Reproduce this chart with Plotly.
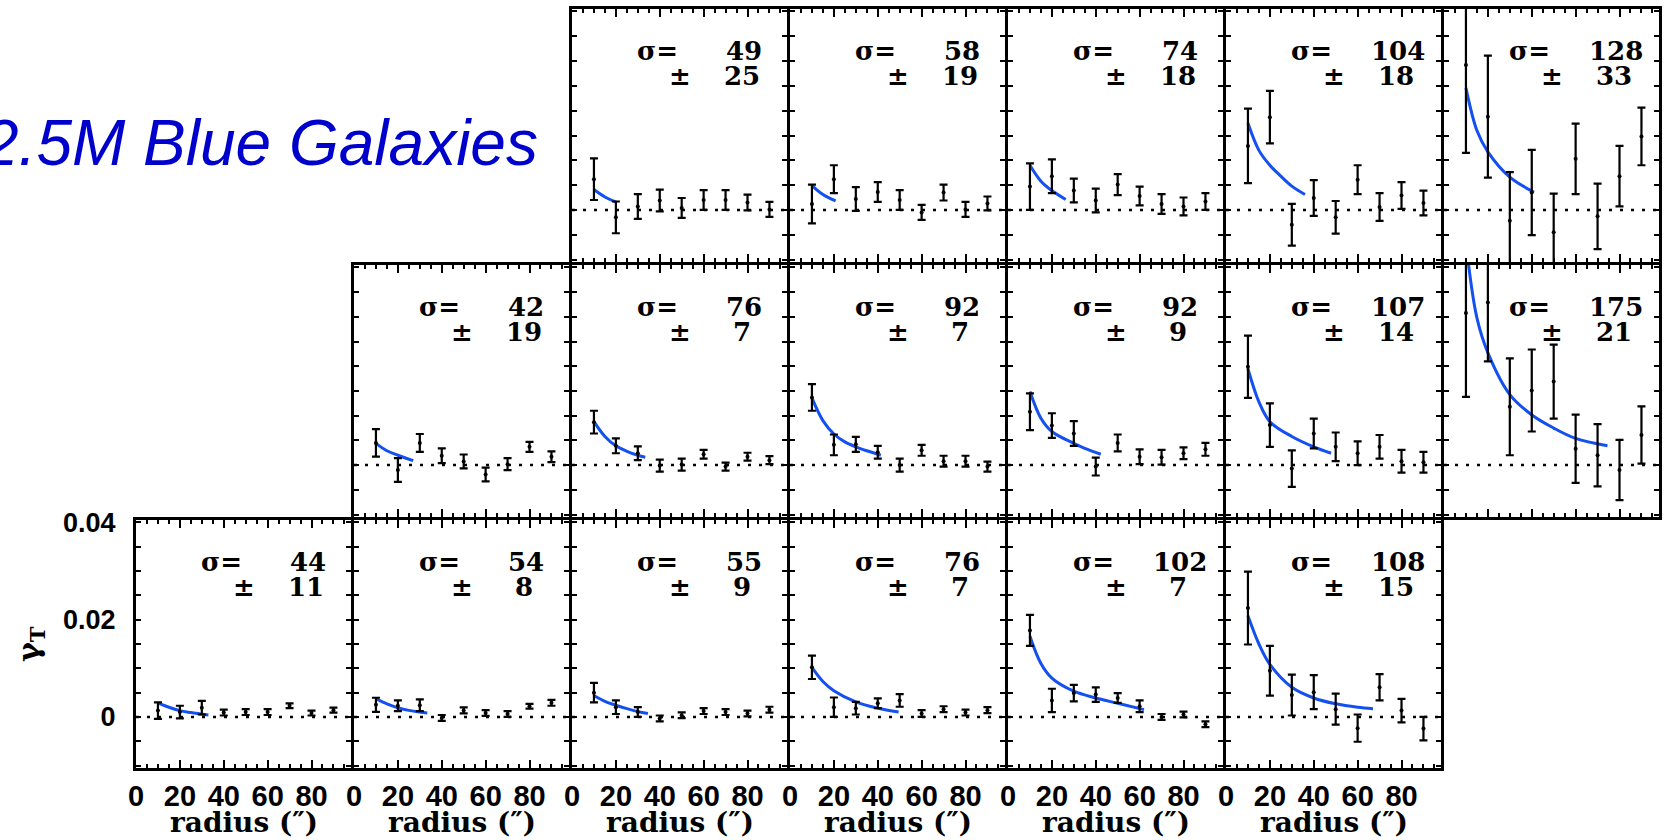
import plotly.graph_objects as go

# ---------------- data ----------------
radius = [10, 20, 30, 40, 50, 60, 70, 80, 90]
x_ticks = [0, 20, 40, 60, 80]
y_label_vals = [0, 0.02, 0.04]
y_label_text = ["0", "0.02", "0.04"]
y_minor_vals = [-0.01, -0.005, 0, 0.005, 0.01, 0.015, 0.02, 0.025, 0.03, 0.035, 0.04]

# Row 1 (top)
g_49 = [0.0062, -0.0015, 0.0007, 0.0019, 0.0004, 0.0020, 0.0020, 0.0015, 0.0001]
e_49 = [0.0042, 0.0032, 0.0025, 0.0022, 0.0020, 0.0020, 0.0020, 0.0016, 0.0015]
fr_49 = [10, 15, 20]
fg_49 = [0.0041, 0.0026, 0.0016]

g_58 = [0.0012, 0.0062, 0.0022, 0.0036, 0.0020, -0.0005, 0.0035, 0.0001, 0.0013]
e_58 = [0.0039, 0.0028, 0.0024, 0.0020, 0.0020, 0.0015, 0.0016, 0.0015, 0.0014]
fr_58 = [10, 15, 20.8]
fg_58 = [0.0049, 0.0031, 0.0018]

g_74 = [0.0047, 0.0068, 0.0039, 0.0019, 0.0051, 0.0028, 0.0012, 0.0007, 0.0017]
e_74 = [0.0047, 0.0034, 0.0024, 0.0024, 0.0021, 0.0019, 0.0020, 0.0018, 0.0017]
fr_74 = [10, 15, 20, 26.3]
fg_74 = [0.0090, 0.0058, 0.0039, 0.0021]

g_104 = [0.0129, 0.0187, -0.0030, 0.0024, -0.0015, 0.0061, 0.0006, 0.0029, 0.0014]
e_104 = [0.0075, 0.0053, 0.0042, 0.0036, 0.0033, 0.0029, 0.0028, 0.0027, 0.0025]
fr_104 = [10, 15, 20, 25, 30, 36]
fg_104 = [0.0175, 0.0120, 0.0090, 0.0068, 0.0048, 0.0031]

g_128 = [0.0292, 0.0188, -0.0022, 0.0035, -0.0045, 0.0103, -0.0013, 0.0068, 0.0148]
e_128 = [0.0177, 0.0123, 0.0098, 0.0086, 0.0078, 0.0071, 0.0066, 0.0061, 0.0058]
fr_128 = [10, 15, 20, 30, 41]
fg_128 = [0.0246, 0.0160, 0.0117, 0.0066, 0.0036]

# Row 2 (middle)
g_42 = [0.0045, -0.0010, 0.0045, 0.0019, 0.00075, -0.0019, 0.0002, 0.0037, 0.0017]
e_42 = [0.0028, 0.0024, 0.0018, 0.0015, 0.0014, 0.0014, 0.0012, 0.0010, 0.0011]
fr_42 = [10, 15, 20, 27]
fg_42 = [0.0044, 0.0029, 0.0020, 0.0009]

g_76m = [0.0087, 0.0039, 0.0024, -0.0001, 0.0001, 0.0022, -0.0003, 0.0017, 0.0010]
e_76m = [0.0023, 0.0015, 0.0014, 0.0012, 0.0012, 0.0009, 0.0008, 0.0008, 0.0008]
fr_76m = [10, 15, 20, 25, 30, 33.4]
fg_76m = [0.0088, 0.0058, 0.0039, 0.0028, 0.0020, 0.0016]

g_92a = [0.0137, 0.0041, 0.0042, 0.0026, 0.0000, 0.0030, 0.0008, 0.0008, -0.0003]
e_92a = [0.0027, 0.0021, 0.0015, 0.0013, 0.0013, 0.0011, 0.0011, 0.0011, 0.0010]
fr_92a = [10, 15, 20, 25, 30, 35, 41.4]
fg_92a = [0.0136, 0.0090, 0.0063, 0.0047, 0.0037, 0.0029, 0.0020]

g_92b = [0.0108, 0.0080, 0.0064, -0.0003, 0.0045, 0.0017, 0.0016, 0.0024, 0.0032]
e_92b = [0.0037, 0.0025, 0.0025, 0.0018, 0.0017, 0.0015, 0.0015, 0.0012, 0.0013]
fr_92b = [10, 15, 20, 30, 35, 42.3]
fg_92b = [0.0149, 0.0095, 0.0068, 0.0044, 0.0034, 0.0022]

g_107 = [0.0199, 0.0081, -0.0007, 0.0064, 0.0037, 0.0024, 0.0037, 0.0008, 0.0006]
e_107 = [0.0063, 0.0044, 0.0037, 0.0030, 0.0029, 0.0024, 0.0024, 0.0023, 0.0021]
fr_107 = [10, 15, 20, 30, 40, 47.9]
fg_107 = [0.0195, 0.0128, 0.0088, 0.0058, 0.0037, 0.0024]

g_175 = [0.0308, 0.0329, 0.0118, 0.0151, 0.0169, 0.0033, 0.0020, -0.0010, 0.0061]
e_175 = [0.0170, 0.0119, 0.0098, 0.0083, 0.0075, 0.0069, 0.0063, 0.0061, 0.0058]
fr_175 = [10, 15, 20.3, 30.1, 39.9, 50, 60, 74.5]
fg_175 = [0.0450, 0.0298, 0.0224, 0.0142, 0.0102, 0.0075, 0.0054, 0.0039]

# Row 3 (bottom)
g_44 = [0.0013, 0.0010, 0.0019, 0.0009, 0.0010, 0.0010, 0.0023, 0.0008, 0.0014]
e_44 = [0.0017, 0.0013, 0.0014, 0.0006, 0.0006, 0.0006, 0.0005, 0.0005, 0.0005]
fr_44 = [10, 15, 20, 25, 33]
fg_44 = [0.0029, 0.0020, 0.0013, 0.0009, 0.0004]

g_54 = [0.0025, 0.0023, 0.0024, -0.0002, 0.00135, 0.0008, 0.0006, 0.0022, 0.0029]
e_54 = [0.00145, 0.0011, 0.0012, 0.0006, 0.0006, 0.0006, 0.0006, 0.0005, 0.0006]
fr_54 = [10, 15, 20, 25, 33.4]
fg_54 = [0.0037, 0.0027, 0.0019, 0.00135, 0.0008]

g_55 = [0.0050, 0.0020, 0.0010, -0.0003, 0.00035, 0.0012, 0.0010, 0.0007, 0.0015]
e_55 = [0.0020, 0.0014, 0.0010, 0.0006, 0.0006, 0.0006, 0.0006, 0.0006, 0.0006]
fr_55 = [10, 15, 20, 25, 30, 34.6]
fg_55 = [0.0044, 0.0032, 0.0024, 0.0017, 0.0011, 0.0007]

g_76b = [0.0102, 0.0020, 0.0018, 0.0028, 0.0034, 0.0007, 0.0016, 0.0009, 0.0014]
e_76b = [0.0024, 0.0020, 0.0013, 0.0010, 0.0013, 0.0007, 0.0006, 0.0006, 0.0006]
fr_76b = [10, 15, 20, 30, 40, 49.5]
fg_76b = [0.0102, 0.0073, 0.0054, 0.0031, 0.0018, 0.0010]

g_102 = [0.0178, 0.0034, 0.0049, 0.0046, 0.0039, 0.0022, 0.0000, 0.0005, -0.0015]
e_102 = [0.0032, 0.0024, 0.0017, 0.0015, 0.0010, 0.0012, 0.0006, 0.0006, 0.0006]
fr_102 = [10, 15, 20, 30, 40, 50, 62]
fg_102 = [0.0166, 0.0110, 0.0080, 0.0053, 0.0039, 0.0028, 0.0015]

g_108 = [0.0224, 0.0095, 0.0045, 0.0051, 0.0016, -0.0023, 0.0061, 0.0013, -0.0024]
e_108 = [0.0075, 0.0051, 0.0042, 0.0035, 0.0032, 0.0028, 0.0027, 0.0024, 0.0024]
fr_108 = [10, 15, 20, 30, 40, 50, 60, 67]
fg_108 = [0.0208, 0.0150, 0.0108, 0.0061, 0.0039, 0.0027, 0.0020, 0.0017]

# panel list: (row, col, sigma, sigma_err, g, e, fit_r, fit_g)
panels = [
    (0, 2, "49", "25", g_49, e_49, fr_49, fg_49),
    (0, 3, "58", "19", g_58, e_58, fr_58, fg_58),
    (0, 4, "74", "18", g_74, e_74, fr_74, fg_74),
    (0, 5, "104", "18", g_104, e_104, fr_104, fg_104),
    (0, 6, "128", "33", g_128, e_128, fr_128, fg_128),
    (1, 1, "42", "19", g_42, e_42, fr_42, fg_42),
    (1, 2, "76", "7", g_76m, e_76m, fr_76m, fg_76m),
    (1, 3, "92", "7", g_92a, e_92a, fr_92a, fg_92a),
    (1, 4, "92", "9", g_92b, e_92b, fr_92b, fg_92b),
    (1, 5, "107", "14", g_107, e_107, fr_107, fg_107),
    (1, 6, "175", "21", g_175, e_175, fr_175, fg_175),
    (2, 0, "44", "11", g_44, e_44, fr_44, fg_44),
    (2, 1, "54", "8", g_54, e_54, fr_54, fg_54),
    (2, 2, "55", "9", g_55, e_55, fr_55, fg_55),
    (2, 3, "76", "7", g_76b, e_76b, fr_76b, fg_76b),
    (2, 4, "102", "7", g_102, e_102, fr_102, fg_102),
    (2, 5, "108", "15", g_108, e_108, fr_108, fg_108),
]

# ---------------- layout geometry (pixels) ----------------
W, H = 1665, 840
COL0, COLW = 135, 218          # grid lines of the panel frames
ROW_GRID = [8, 264, 519, 770]
LW = 3                         # frame line width; inner domain inset so shared frames coincide
XR = [0, 98]
YR = [-0.0105, 0.0405]
BLUE = "#1450F0"
SERIF = "DejaVu Serif"
SANS = "Liberation Sans"

fig = go.Figure()
annotations = []
shapes = []

for i, (r, c, sig, sige, g, e, fr, fg) in enumerate(panels):
    n = i + 1
    xa = "x" if n == 1 else f"x{n}"
    ya = "y" if n == 1 else f"y{n}"
    xkey = "xaxis" if n == 1 else f"xaxis{n}"
    ykey = "yaxis" if n == 1 else f"yaxis{n}"
    gl = COL0 + c * COLW
    gr = gl + COLW
    gt, gb = ROW_GRID[r], ROW_GRID[r + 1]
    left, right = gl + 1, gr - 2
    top, bot = gt + 1, gb - 2
    bottom_row = (r == 2)
    first_panel = (r == 2 and c == 0)

    fig.add_trace(go.Scatter(
        x=fr, y=fg, mode="lines", line=dict(color=BLUE, width=3, shape="spline"),
        xaxis=xa, yaxis=ya, showlegend=False, hoverinfo="skip"))
    fig.add_trace(go.Scatter(
        x=radius, y=g, mode="markers",
        marker=dict(color="black", size=4),
        error_y=dict(type="data", array=e, visible=True, color="black", thickness=2.2, width=4),
        xaxis=xa, yaxis=ya, showlegend=False))

    fig.layout[xkey] = dict(
        domain=[left / W, right / W], range=XR, anchor=ya, automargin=False,
        showline=True, linecolor="black", linewidth=LW, mirror="ticks",
        ticks="inside", ticklen=8, tickwidth=2, tickcolor="black",
        tickvals=x_ticks, showticklabels=bottom_row,
        tickfont=dict(family=SANS, size=29, color="black", weight="bold"),
        ticklabelstandoff=0,
        minor=dict(dtick=5, ticks="inside", ticklen=4, tickwidth=1.5, tickcolor="black"),
        showgrid=False, zeroline=False, fixedrange=True)
    fig.layout[ykey] = dict(
        domain=[1 - bot / H, 1 - top / H], range=YR, anchor=xa, automargin=False,
        showline=True, linecolor="black", linewidth=LW, mirror="ticks",
        ticks="inside", ticklen=5, tickwidth=2, tickcolor="black",
        tickvals=y_label_vals, ticktext=y_label_text, showticklabels=first_panel,
        tickfont=dict(family=SANS, size=27, color="black", weight="bold"),
        ticklabelstandoff=12,
        minor=dict(tickvals=y_minor_vals, ticks="inside", ticklen=5, tickwidth=2, tickcolor="black"),
        showgrid=False, zeroline=False, fixedrange=True)

    shapes.append(dict(type="line", xref=f"{xa} domain", yref=ya, x0=0, x1=1, y0=0, y1=0,
                       line=dict(color="black", width=2.5, dash="3px,8px"), layer="above"))

    f = dict(family=SERIF, size=26, color="black", weight="bold")
    annotations += [
        dict(text="σ=", xref="paper", yref="paper", x=(gl + 86) / W, y=1 - (gt + 43) / H,
             xanchor="center", yanchor="middle", showarrow=False, font=f),
        dict(text=sig, xref="paper", yref="paper", x=(gl + 173) / W, y=1 - (gt + 43) / H,
             xanchor="center", yanchor="middle", showarrow=False, font=f),
        dict(text="±", xref="paper", yref="paper", x=(gl + 109) / W, y=1 - (gt + 68) / H,
             xanchor="center", yanchor="middle", showarrow=False, font=f),
        dict(text=sige, xref="paper", yref="paper", x=(gl + 171) / W, y=1 - (gt + 68) / H,
             xanchor="center", yanchor="middle", showarrow=False, font=f),
    ]
    if bottom_row:
        annotations.append(dict(text="radius (″)", xref="paper", yref="paper",
                                x=(gl + COLW / 2) / W, y=1 - 822 / H,
                                xanchor="center", yanchor="middle", showarrow=False,
                                font=dict(family=SERIF, size=28, color="black", weight="bold")))

annotations.append(dict(text="γ<sub>T</sub>", xref="paper", yref="paper", x=30 / W, y=1 - 644 / H,
                        xanchor="center", yanchor="middle", textangle=-90, showarrow=False,
                        font=dict(family=SERIF, size=30, color="black", weight="bold")))
annotations.append(dict(text="<i>2.5M Blue Galaxies</i>", xref="paper", yref="paper",
                        x=540 / W, y=1 - 143 / H, xanchor="right", yanchor="middle",
                        showarrow=False, font=dict(family=SANS, size=64, color="#0000CC")))

fig.update_layout(width=W, height=H, margin=dict(l=0, r=0, t=0, b=0, autoexpand=False),
                  paper_bgcolor="white", plot_bgcolor="white",
                  annotations=annotations, shapes=shapes, showlegend=False)

fig.write_html("out.html")
